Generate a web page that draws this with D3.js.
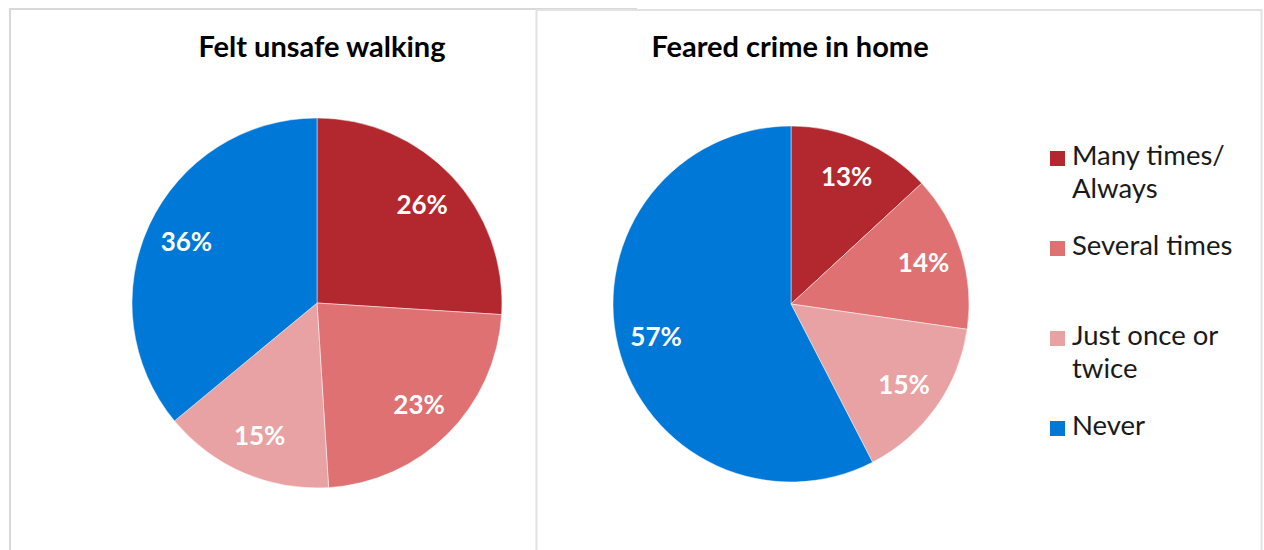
<!DOCTYPE html>
<html>
<head>
<meta charset="utf-8">
<script src="https://cdn.jsdelivr.net/npm/d3@7"></script>
<style>
  html, body { margin: 0; padding: 0; background: #fff; }
  svg { display: block; }
</style>
</head>
<body>
<svg id="chart" width="1264" height="550"></svg>
<script>
// Response categories shared by both pies
const categories = ["Many times/ Always", "Several times", "Just once or twice", "Never"];
// Legend text, broken into lines
const legendLines = [["Many times/", "Always"], ["Several times"], ["Just once or", "twice"], ["Never"]];
// Share of respondents (%) per category
const walkingValues = [26, 23, 15, 36];
const homeValues = [13, 14, 15, 57];
const chartTitles = ["Felt unsafe walking", "Feared crime in home"];

const palette = ["#b2282e", "#df7173", "#e9a2a4", "#0078d7"];
const color = d3.scaleOrdinal().domain(categories).range(palette);

const svg = d3.select("#chart");

// Panel frames: the first panel runs underneath the second one
svg.append("rect")
  .attr("x", 10).attr("y", 9).attr("width", 626).attr("height", 600)
  .attr("fill", "#fff").attr("stroke", "#d9d9d9").attr("stroke-width", 2);
svg.append("rect")
  .attr("x", 536.5).attr("y", 10).attr("width", 725).attr("height", 600)
  .attr("fill", "#fff").attr("stroke", "#e2e2e2").attr("stroke-width", 2);

const pie = d3.pie().sort(null).value(d => d.value);

const charts = [
  { title: chartTitles[0], values: walkingValues, cx: 317, cy: 303, r: 185, titleX: 322 },
  { title: chartTitles[1], values: homeValues, cx: 791, cy: 304, r: 178, titleX: 790 }
];

charts.forEach(c => {
  const data = categories.map((cat, i) => ({ cat, value: c.values[i] }));
  const arcs = pie(data);
  const g = svg.append("g").attr("transform", `translate(${c.cx},${c.cy})`);
  const arc = d3.arc().innerRadius(0).outerRadius(c.r);
  const labelArc = d3.arc().innerRadius(c.r * 0.78).outerRadius(c.r * 0.78);

  g.selectAll("path.slice").data(arcs).join("path")
    .attr("class", "slice")
    .attr("d", arc)
    .attr("fill", d => color(d.data.cat))
    .attr("stroke", "rgba(255,255,255,0.6)")
    .attr("stroke-width", 0.8);

  g.selectAll("text.value").data(arcs).join("text")
    .attr("class", "value")
    .attr("transform", d => `translate(${labelArc.centroid(d)})`)
    .attr("text-anchor", "middle")
    .attr("dy", "0.36em")
    .attr("font-family", "Lato, sans-serif")
    .attr("font-weight", 700)
    .attr("font-size", 26)
    .attr("fill", "#fff")
    .text(d => d.data.value + "%");

  svg.append("text")
    .attr("x", c.titleX).attr("y", 57)
    .attr("text-anchor", "middle")
    .attr("font-family", "Lato, sans-serif")
    .attr("font-weight", 700)
    .attr("font-size", 29)
    .attr("fill", "#000")
    .text(c.title);
});

// Legend
const legendX = 1050, legendTop = 165, legendStep = 90, lineGap = 33;
const legend = svg.append("g");
categories.forEach((cat, i) => {
  const base = legendTop + i * legendStep;
  legend.append("rect")
    .attr("x", legendX).attr("y", base - 14)
    .attr("width", 15).attr("height", 15)
    .attr("fill", color(cat));
  const t = legend.append("text")
    .attr("x", legendX + 22).attr("y", base)
    .attr("font-family", "Lato, sans-serif")
    .attr("font-size", 27.5)
    .attr("fill", "#1a1a1a");
  legendLines[i].forEach((line, j) => {
    t.append("tspan").attr("x", legendX + 22).attr("y", base + j * lineGap).text(line);
  });
});
</script>
</body>
</html>
